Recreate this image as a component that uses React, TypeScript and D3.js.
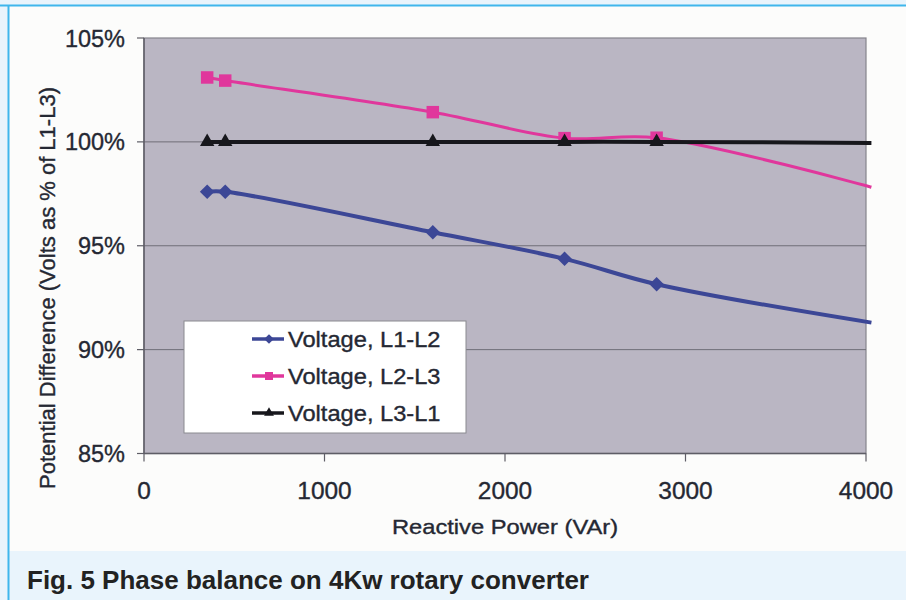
import * as d3 from 'd3'

const WIDTH = 906
const HEIGHT = 600

// Reactive power (VAr) readings, shared by the three phase pairs
const reactivePower = [350, 450, 1600, 2330, 2840, 4030]

// Line voltage as % of L1-L3
const voltsL1L2 = [97.6, 97.6, 95.65, 94.37, 93.15, 91.3]
const voltsL2L3 = [103.1, 102.95, 101.43, 100.18, 100.2, 97.82]
const voltsL3L1 = [100, 100, 100, 100, 100, 99.95]

const seriesNames = ['Voltage, L1-L2', 'Voltage, L2-L3', 'Voltage, L3-L1']
const seriesColors = ['#3c4796', '#e0379c', '#17171c']
const seriesWidths = [4, 3, 4]

const xTicks = [0, 1000, 2000, 3000, 4000]
const yTicks = [85, 90, 95, 100, 105]

const FONT = '"Liberation Sans", Arial, Helvetica, sans-serif'
const INK = '#252833'

// scanned figure is a touch wider than the font, so text gets stretched a bit
function Label({ x, y, sx = 1, children, ...rest }: any) {
  return (
    <text
      transform={`translate(${x},${y}) scale(${sx},1)`}
      fontFamily={FONT}
      fill={INK}
      stroke={INK}
      strokeWidth={0.35}
      {...rest}
    >
      {children}
    </text>
  )
}

function marker(kind: number, big: boolean) {
  const shapes = [d3.symbolDiamond2, d3.symbolSquare, d3.symbolTriangle]
  const sizes = big ? [135, 156, 90] : [60, 64, 42]
  return d3.symbol(shapes[kind], sizes[kind])() as string
}

export default function App() {
  const margin = { left: 144, right: 866, top: 38, bottom: 453.5 }

  const x = d3.scaleLinear().domain([0, 4000]).range([margin.left, margin.right])
  const y = d3.scaleLinear().domain([85, 105]).range([margin.bottom, margin.top])

  const series = [voltsL1L2, voltsL2L3, voltsL3L1].map((vals, i) => ({
    name: seriesNames[i],
    color: seriesColors[i],
    width: seriesWidths[i],
    points: vals.map((v, j) => ({ x: reactivePower[j], v })),
  }))

  const line = d3
    .line<{ x: number; v: number }>()
    .x(d => x(d.x))
    .y(d => y(d.v))
    .curve(d3.curveCatmullRom.alpha(0.5))

  const legend = { x: 184, y: 321, w: 282, h: 112 }

  return (
    <svg
      width={WIDTH}
      height={HEIGHT}
      style={{ position: 'absolute', left: 0, top: 0, display: 'block' }}
    >
      {/* page frame */}
      <rect x={0} y={0} width={WIDTH} height={HEIGHT} fill="#e9f4fc" />
      <rect x={9} y={6} width={WIDTH - 9} height={545} fill="#fcfcfb" />
      <line x1={0} x2={WIDTH} y1={5.5} y2={5.5} stroke="#3fb6ec" strokeWidth={2} />
      <line x1={8.5} x2={8.5} y1={5} y2={HEIGHT} stroke="#3fb6ec" strokeWidth={2} />

      {/* plot area */}
      <rect
        x={margin.left}
        y={margin.top}
        width={margin.right - margin.left}
        height={margin.bottom - margin.top}
        fill="#bab6c3"
        stroke="#85848c"
        strokeWidth={1.2}
      />
      {yTicks.filter(t => t > 85 && t < 105).map(t => (
        <line key={t} x1={margin.left} x2={margin.right} y1={y(t)} y2={y(t)} stroke="#6f6e77" strokeWidth={1} />
      ))}
      <line x1={margin.left} x2={margin.left} y1={margin.top} y2={margin.bottom} stroke="#5e5d66" strokeWidth={1.5} />
      <line x1={margin.left} x2={margin.right} y1={margin.bottom} y2={margin.bottom} stroke="#5e5d66" strokeWidth={1.5} />

      {/* y axis */}
      {yTicks.map(t => (
        <g key={t}>
          <line x1={margin.left - 7} x2={margin.left} y1={y(t)} y2={y(t)} stroke="#5e5d66" strokeWidth={1.2} />
          <Label x={125} y={y(t) + 8.5} fontSize={23.5} textAnchor="end">
            {`${t}%`}
          </Label>
        </g>
      ))}
      <Label x={55} y={288} fontSize={22} textAnchor="middle" transform="translate(55,288) rotate(-90)">
        Potential Difference (Volts as % of L1-L3)
      </Label>

      {/* x axis */}
      {xTicks.map(t => (
        <g key={t}>
          <line x1={x(t)} x2={x(t)} y1={margin.bottom} y2={margin.bottom + 8} stroke="#5e5d66" strokeWidth={1.2} />
          <Label x={x(t)} y={499} sx={1.04} fontSize={23.5} textAnchor="middle">
            {t}
          </Label>
        </g>
      ))}
      <Label x={(margin.left + margin.right) / 2} y={533.5} sx={1.13} fontSize={21} textAnchor="middle">
        Reactive Power (VAr)
      </Label>

      {/* series */}
      {series.map((s, i) => (
        <g key={s.name}>
          <path d={line(s.points) as string} fill="none" stroke={s.color} strokeWidth={s.width} strokeLinejoin="round" />
          {s.points
            .filter(p => p.x <= 4000)
            .map((p, j) => (
              <path key={j} d={marker(i, true)} transform={`translate(${x(p.x)},${y(p.v)})`} fill={s.color} />
            ))}
        </g>
      ))}

      {/* legend */}
      <rect x={legend.x} y={legend.y} width={legend.w} height={legend.h} fill="#ffffff" stroke="#8a8a90" strokeWidth={1} />
      {series.map((s, i) => {
        const cy = 339 + i * 37
        return (
          <g key={s.name}>
            <line x1={252} x2={284} y1={cy} y2={cy} stroke={s.color} strokeWidth={3.5} />
            <path d={marker(i, false)} transform={`translate(269,${cy})`} fill={s.color} />
            <Label x={288} y={cy + 8} sx={1.1} fontSize={21.5}>
              {s.name}
            </Label>
          </g>
        )
      })}

      {/* caption */}
      <Label x={27} y={589} sx={1.04} fontSize={25} fontWeight="bold" fill="#222222" stroke="none">
        Fig. 5 Phase balance on 4Kw rotary converter
      </Label>
    </svg>
  )
}
